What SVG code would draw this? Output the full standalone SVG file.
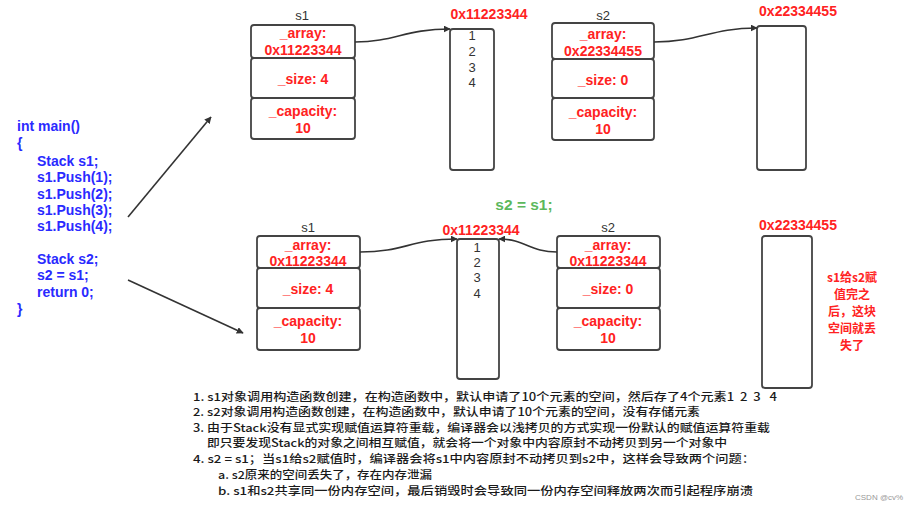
<svg xmlns="http://www.w3.org/2000/svg" width="918" height="511" viewBox="0 0 918 511">
<defs>
<style>
.bx{fill:#fff;stroke:#444;stroke-width:1.8}
.rt{font-family:"Liberation Sans",Arial,sans-serif;font-weight:bold;font-size:14px;fill:#ff2222;text-anchor:middle;dominant-baseline:central}
.lb{font-family:"Liberation Sans",Arial,sans-serif;font-size:13px;fill:#333;text-anchor:middle;dominant-baseline:central}
.num{font-family:"Liberation Sans",Arial,sans-serif;font-size:13px;fill:#333;text-anchor:middle;dominant-baseline:central}
.code{font-family:"Liberation Sans",Arial,sans-serif;font-weight:bold;font-size:14px;fill:#2a2aff;dominant-baseline:central}
.note{font-family:"Noto Sans CJK SC","Noto Sans",sans-serif;font-weight:500;font-size:11px;fill:#1a1a1a;dominant-baseline:central}
.cn{font-family:"Noto Sans CJK SC",sans-serif;font-weight:bold;font-size:12px;fill:#ff2222;text-anchor:middle;dominant-baseline:central}
.ln{fill:none;stroke:#333;stroke-width:1.6}
</style>
<marker id="ah" viewBox="0 0 10 10" refX="9" refY="5" markerWidth="7" markerHeight="7" orient="auto" markerUnits="userSpaceOnUse">
<path d="M0,0 L10,5 L0,10 z" fill="#333"/>
</marker>
</defs>
<rect width="918" height="511" fill="#fff"/>

<g id="code">
<text class="code" x="17" y="126">int main()</text>
<text class="code" x="17" y="143">{</text>
<text class="code" x="37" y="161">Stack s1;</text>
<text class="code" x="37" y="177">s1.Push(1);</text>
<text class="code" x="37" y="194">s1.Push(2);</text>
<text class="code" x="37" y="210">s1.Push(3);</text>
<text class="code" x="37" y="226">s1.Push(4);</text>
<text class="code" x="37" y="259">Stack s2;</text>
<text class="code" x="37" y="275">s2 = s1;</text>
<text class="code" x="37" y="292">return 0;</text>
<text class="code" x="17" y="309">}</text>
</g>

<g id="top-s1">
<text class="lb" x="302" y="15">s1</text>
<rect class="bx" x="251" y="25" width="104" height="33" rx="3"/>
<rect class="bx" x="251" y="58" width="104" height="40" rx="3"/>
<rect class="bx" x="251" y="98" width="104" height="41" rx="3"/>
<text class="rt" x="303" y="33">_array:</text>
<text class="rt" x="303" y="50">0x11223344</text>
<text class="rt" x="303" y="79">_size: 4</text>
<text class="rt" x="303" y="111">_capacity:</text>
<text class="rt" x="303" y="128">10</text>
</g>

<g id="top-arr1">
<text class="rt" x="489" y="14">0x11223344</text>
<rect class="bx" x="450" y="29" width="44" height="141" rx="3"/>
<text class="num" x="472" y="35">1</text>
<text class="num" x="472" y="51">2</text>
<text class="num" x="472" y="67">3</text>
<text class="num" x="472" y="82">4</text>
</g>

<g id="top-s2">
<text class="lb" x="603" y="15">s2</text>
<rect class="bx" x="552" y="23" width="102" height="36" rx="3"/>
<rect class="bx" x="552" y="59" width="102" height="39" rx="3"/>
<rect class="bx" x="552" y="98" width="102" height="42" rx="3"/>
<text class="rt" x="603" y="34">_array:</text>
<text class="rt" x="603" y="51">0x22334455</text>
<text class="rt" x="603" y="80">_size: 0</text>
<text class="rt" x="603" y="112">_capacity:</text>
<text class="rt" x="603" y="129">10</text>
</g>

<g id="top-arr2">
<text class="rt" x="798" y="11">0x22334455</text>
<rect class="bx" x="757" y="26" width="49" height="144" rx="3"/>
</g>

<text id="assign" x="524" y="204" font-family="Liberation Sans,Arial,sans-serif" font-weight="bold" font-size="15.5px" fill="#5cb85c" text-anchor="middle" dominant-baseline="central">s2 = s1;</text>

<g id="bot-s1">
<text class="lb" x="308" y="227">s1</text>
<rect class="bx" x="257" y="236" width="103" height="32" rx="3"/>
<rect class="bx" x="257" y="268" width="103" height="40" rx="3"/>
<rect class="bx" x="257" y="308" width="103" height="42" rx="3"/>
<text class="rt" x="308" y="245">_array:</text>
<text class="rt" x="308" y="261">0x11223344</text>
<text class="rt" x="308" y="289">_size: 4</text>
<text class="rt" x="308" y="321">_capacity:</text>
<text class="rt" x="308" y="338">10</text>
</g>

<g id="bot-arr1">
<text class="rt" x="481" y="230">0x11223344</text>
<rect class="bx" x="457" y="239" width="42" height="140" rx="3"/>
<text class="num" x="477" y="247">1</text>
<text class="num" x="477" y="262">2</text>
<text class="num" x="477" y="277">3</text>
<text class="num" x="477" y="293">4</text>
</g>

<g id="bot-s2">
<text class="lb" x="608" y="227">s2</text>
<rect class="bx" x="557" y="236" width="103" height="32" rx="3"/>
<rect class="bx" x="557" y="268" width="103" height="40" rx="3"/>
<rect class="bx" x="557" y="308" width="103" height="42" rx="3"/>
<text class="rt" x="608" y="245">_array:</text>
<text class="rt" x="608" y="261">0x11223344</text>
<text class="rt" x="608" y="289">_size: 0</text>
<text class="rt" x="608" y="321">_capacity:</text>
<text class="rt" x="608" y="338">10</text>
</g>

<g id="bot-arr2">
<text class="rt" x="798" y="225">0x22334455</text>
<rect class="bx" x="762" y="236" width="50" height="152" rx="3"/>
</g>

<g id="lost-note">
<text class="cn" x="852" y="276">s1给s2赋</text>
<text class="cn" x="852" y="293">值完之</text>
<text class="cn" x="852" y="310">后，这块</text>
<text class="cn" x="852" y="327">空间就丢</text>
<text class="cn" x="852" y="344">失了</text>
</g>

<g id="connectors">
<path class="ln" d="M128,217 L211,117" marker-end="url(#ah)"/>
<path class="ln" d="M128,280 L243,333" marker-end="url(#ah)"/>
<path class="ln" d="M355,42 C395,42 405,29 450,29" marker-end="url(#ah)"/>
<path class="ln" d="M654,42 C700,42 710,28 757,28" marker-end="url(#ah)"/>
<path class="ln" d="M360,252 C405,252 410,239 457,239" marker-end="url(#ah)"/>
<path class="ln" d="M557,252 C530,252 525,239 499,239" marker-end="url(#ah)"/>
</g>

<g id="notes">
<text class="note" x="193" y="396" textLength="584" lengthAdjust="spacingAndGlyphs" xml:space="preserve" style="white-space:pre">1. s1对象调用构造函数创建，在构造函数中，默认申请了10个元素的空间，然后存了4个元素1  2  3   4</text>
<text class="note" x="193" y="411" textLength="507" lengthAdjust="spacingAndGlyphs">2. s2对象调用构造函数创建，在构造函数中，默认申请了10个元素的空间，没有存储元素</text>
<text class="note" x="193" y="427" textLength="577" lengthAdjust="spacingAndGlyphs">3. 由于Stack没有显式实现赋值运算符重载，编译器会以浅拷贝的方式实现一份默认的赋值运算符重载</text>
<text class="note" x="207" y="442" textLength="520" lengthAdjust="spacingAndGlyphs">即只要发现Stack的对象之间相互赋值，就会将一个对象中内容原封不动拷贝到另一个对象中</text>
<text class="note" x="193" y="458" textLength="562" lengthAdjust="spacingAndGlyphs">4. s2 = s1；当s1给s2赋值时，编译器会将s1中内容原封不动拷贝到s2中，这样会导致两个问题：</text>
<text class="note" x="218" y="474" textLength="214" lengthAdjust="spacingAndGlyphs">a. s2原来的空间丢失了，存在内存泄漏</text>
<text class="note" x="218" y="490" textLength="535" lengthAdjust="spacingAndGlyphs">b. s1和s2共享同一份内存空间，最后销毁时会导致同一份内存空间释放两次而引起程序崩溃</text>
</g>

<text x="855" y="497" font-family="Liberation Sans,sans-serif" font-size="8px" fill="#999" dominant-baseline="central">CSDN @cv%</text>
</svg>
